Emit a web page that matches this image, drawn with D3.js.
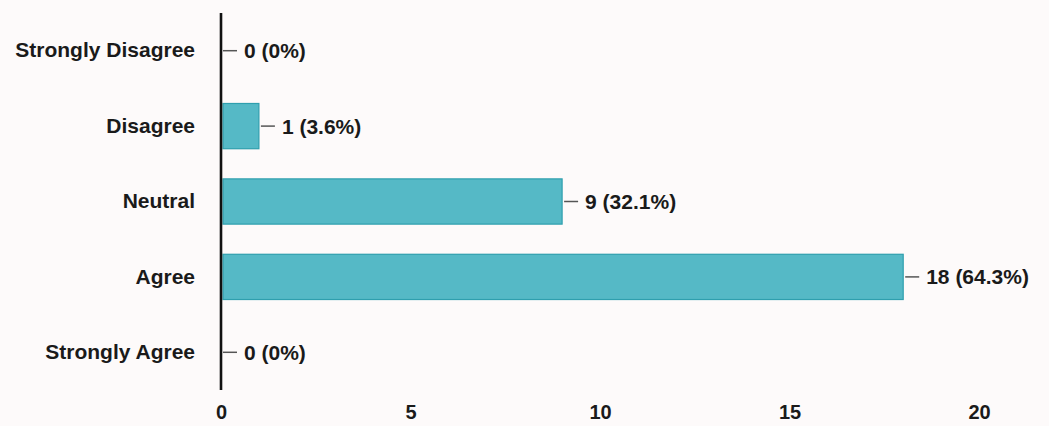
<!DOCTYPE html>
<html>
<head>
<meta charset="utf-8">
<script src="https://cdn.jsdelivr.net/npm/d3@7"></script>
<style>
  html, body { margin: 0; padding: 0; background: #fdfafa; }
  svg { display: block; }
  text { font-family: "Liberation Sans", Arial, sans-serif; font-weight: bold; fill: #1a1a1a; }
</style>
</head>
<body>
<svg id="chart" width="1049" height="426"></svg>
<script>
const categories = ["Strongly Disagree", "Disagree", "Neutral", "Agree", "Strongly Agree"];
const counts = [0, 1, 9, 18, 0];
const percents = ["0%", "3.6%", "32.1%", "64.3%", "0%"];
const tickValues = [0, 5, 10, 15, 20];

const svg = d3.select("#chart");
const FONT = '"Liberation Sans", Arial, sans-serif';

const x = d3.scaleLinear().domain([0, 20]).range([221, 979]);
const y = d3.scaleBand().domain(categories).range([13, 390]).paddingInner(0.4).paddingOuter(0.2);

const data = categories.map((c, i) => ({ c, v: counts[i], p: percents[i] }));

// bars
svg.append("g").selectAll("rect").data(data.filter(d => d.v > 0)).enter()
  .append("rect")
  .attr("x", x(0) + 2)
  .attr("y", d => y(d.c))
  .attr("width", d => x(d.v) - x(0) - 2)
  .attr("height", y.bandwidth())
  .attr("fill", "#55b9c6")
  .attr("stroke", "#2f9fae")
  .attr("stroke-width", 1.2);

// leader lines
svg.append("g").selectAll("line").data(data).enter()
  .append("line")
  .attr("x1", d => x(d.v) + 2)
  .attr("x2", d => x(d.v) + 16)
  .attr("y1", d => y(d.c) + y.bandwidth() / 2)
  .attr("y2", d => y(d.c) + y.bandwidth() / 2)
  .attr("stroke", "#555")
  .attr("stroke-width", 1.5);

// value labels
svg.append("g").selectAll("text").data(data).enter()
  .append("text")
  .attr("x", d => x(d.v) + 23)
  .attr("y", d => y(d.c) + y.bandwidth() / 2)
  .attr("dy", "0.36em")
  .attr("font-size", 21)
  .text(d => `${d.v} (${d.p})`);

// category axis (left)
const yAxis = d3.axisLeft(y).tickSize(0).tickPadding(0);
const yg = svg.append("g").attr("transform", `translate(195,0)`).call(yAxis);
yg.select(".domain").remove();
yg.selectAll("text").attr("font-size", 21).attr("fill", "#1a1a1a")
  .style("font-family", FONT).style("font-weight", "bold");

// vertical axis line
svg.append("line")
  .attr("x1", x(0)).attr("x2", x(0))
  .attr("y1", y.range()[0]).attr("y2", y.range()[1])
  .attr("stroke", "#111").attr("stroke-width", 2.6);

// x tick labels
const xAxis = d3.axisBottom(x).tickValues(tickValues).tickSize(0).tickPadding(0);
const xg = svg.append("g").attr("transform", `translate(0,405)`).call(xAxis);
xg.select(".domain").remove();
xg.selectAll("text").attr("font-size", 20).attr("fill", "#1a1a1a")
  .style("font-family", FONT).style("font-weight", "bold");
</script>
</body>
</html>
